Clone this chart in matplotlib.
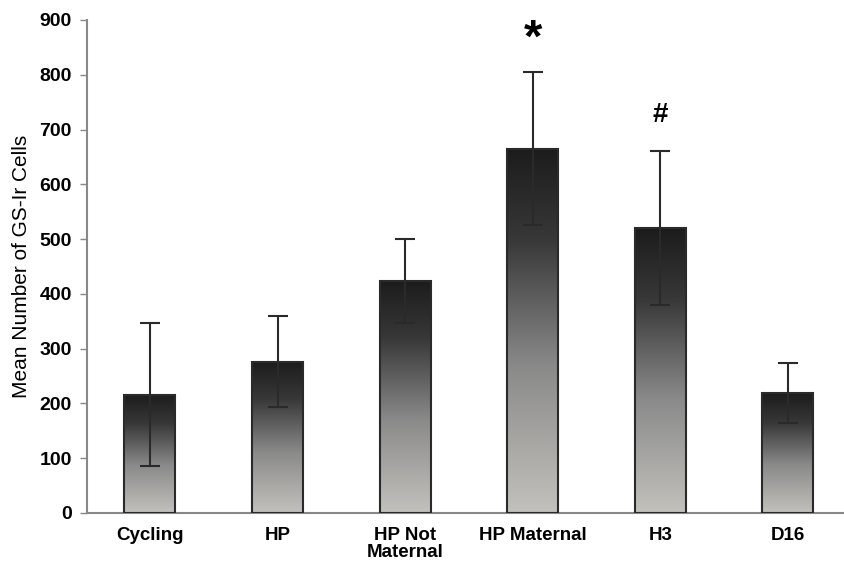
import numpy as np
import matplotlib
matplotlib.use("Agg")
from matplotlib import pyplot as plt
from matplotlib.colors import LinearSegmentedColormap
from matplotlib.patches import Rectangle

plt.rcParams["font.family"] = ["Liberation Sans", "DejaVu Sans"]

groups = ["Cycling", "HP", "HP Not\nMaternal", "HP Maternal", "H3", "D16"]
means = [216, 276, 424, 665, 520, 219]
errors = [131, 83, 77, 140, 140, 55]
marks = {3: "*", 4: "#"}

fig = plt.figure(figsize=(8.44, 5.71), dpi=100)
ax = fig.add_axes([0.103, 0.1016, 0.897, 0.8634])

# dark at top, light grey at the bottom of each bar
cmap = LinearSegmentedColormap.from_list(
    "bar", [(0.0, "#c3c1bc"), (0.4, "#8a8a8a"), (0.75, "#383838"), (1.0, "#1c1c1c")])
grad = np.linspace(0, 1, 256).reshape(-1, 1)

x = np.arange(len(groups))
width = 0.4
bars = ax.bar(x, means, width, color="none", edgecolor="#2a2a2a", linewidth=1.5, zorder=3)
for b in bars:
    x0, y0 = b.get_x(), b.get_y()
    w, h = b.get_width(), b.get_height()
    im = ax.imshow(grad, cmap=cmap, origin="lower", aspect="auto",
                   extent=[x0, x0 + w, y0, y0 + h], zorder=2)
    im.set_clip_path(Rectangle((x0, y0), w, h, transform=ax.transData))

ax.errorbar(x, means, yerr=errors, fmt="none", ecolor="#2a2a2a",
            elinewidth=1.5, capsize=7, capthick=1.5, zorder=4)

for i, m in marks.items():
    top = means[i] + errors[i]
    if m == "*":
        ax.text(i, top + 18, m, ha="center", va="bottom", fontsize=34, fontweight="bold")
    else:
        ax.text(i, top + 42, m, ha="center", va="bottom", fontsize=20, fontweight="bold")

ax.set_xlim(-0.494, 5.44)
ax.set_ylim(0, 900)
ax.set_yticks(range(0, 901, 100))
ax.set_xticks(x)
ax.set_xticklabels(groups, fontsize=13.5, fontweight="bold", linespacing=1.0)
ax.tick_params(axis="x", length=0, pad=10)
ax.tick_params(axis="y", length=5, width=1, color="#888888", labelsize=14, pad=6)
for lab in ax.get_yticklabels():
    lab.set_fontweight("bold")
ax.set_ylabel("Mean Number of GS-Ir Cells", fontsize=15, labelpad=6)

for s in ["top", "right"]:
    ax.spines[s].set_visible(False)
for s in ["left", "bottom"]:
    ax.spines[s].set_color("#888888")
    ax.spines[s].set_linewidth(1.5)

fig.savefig("out.png", dpi=100)
